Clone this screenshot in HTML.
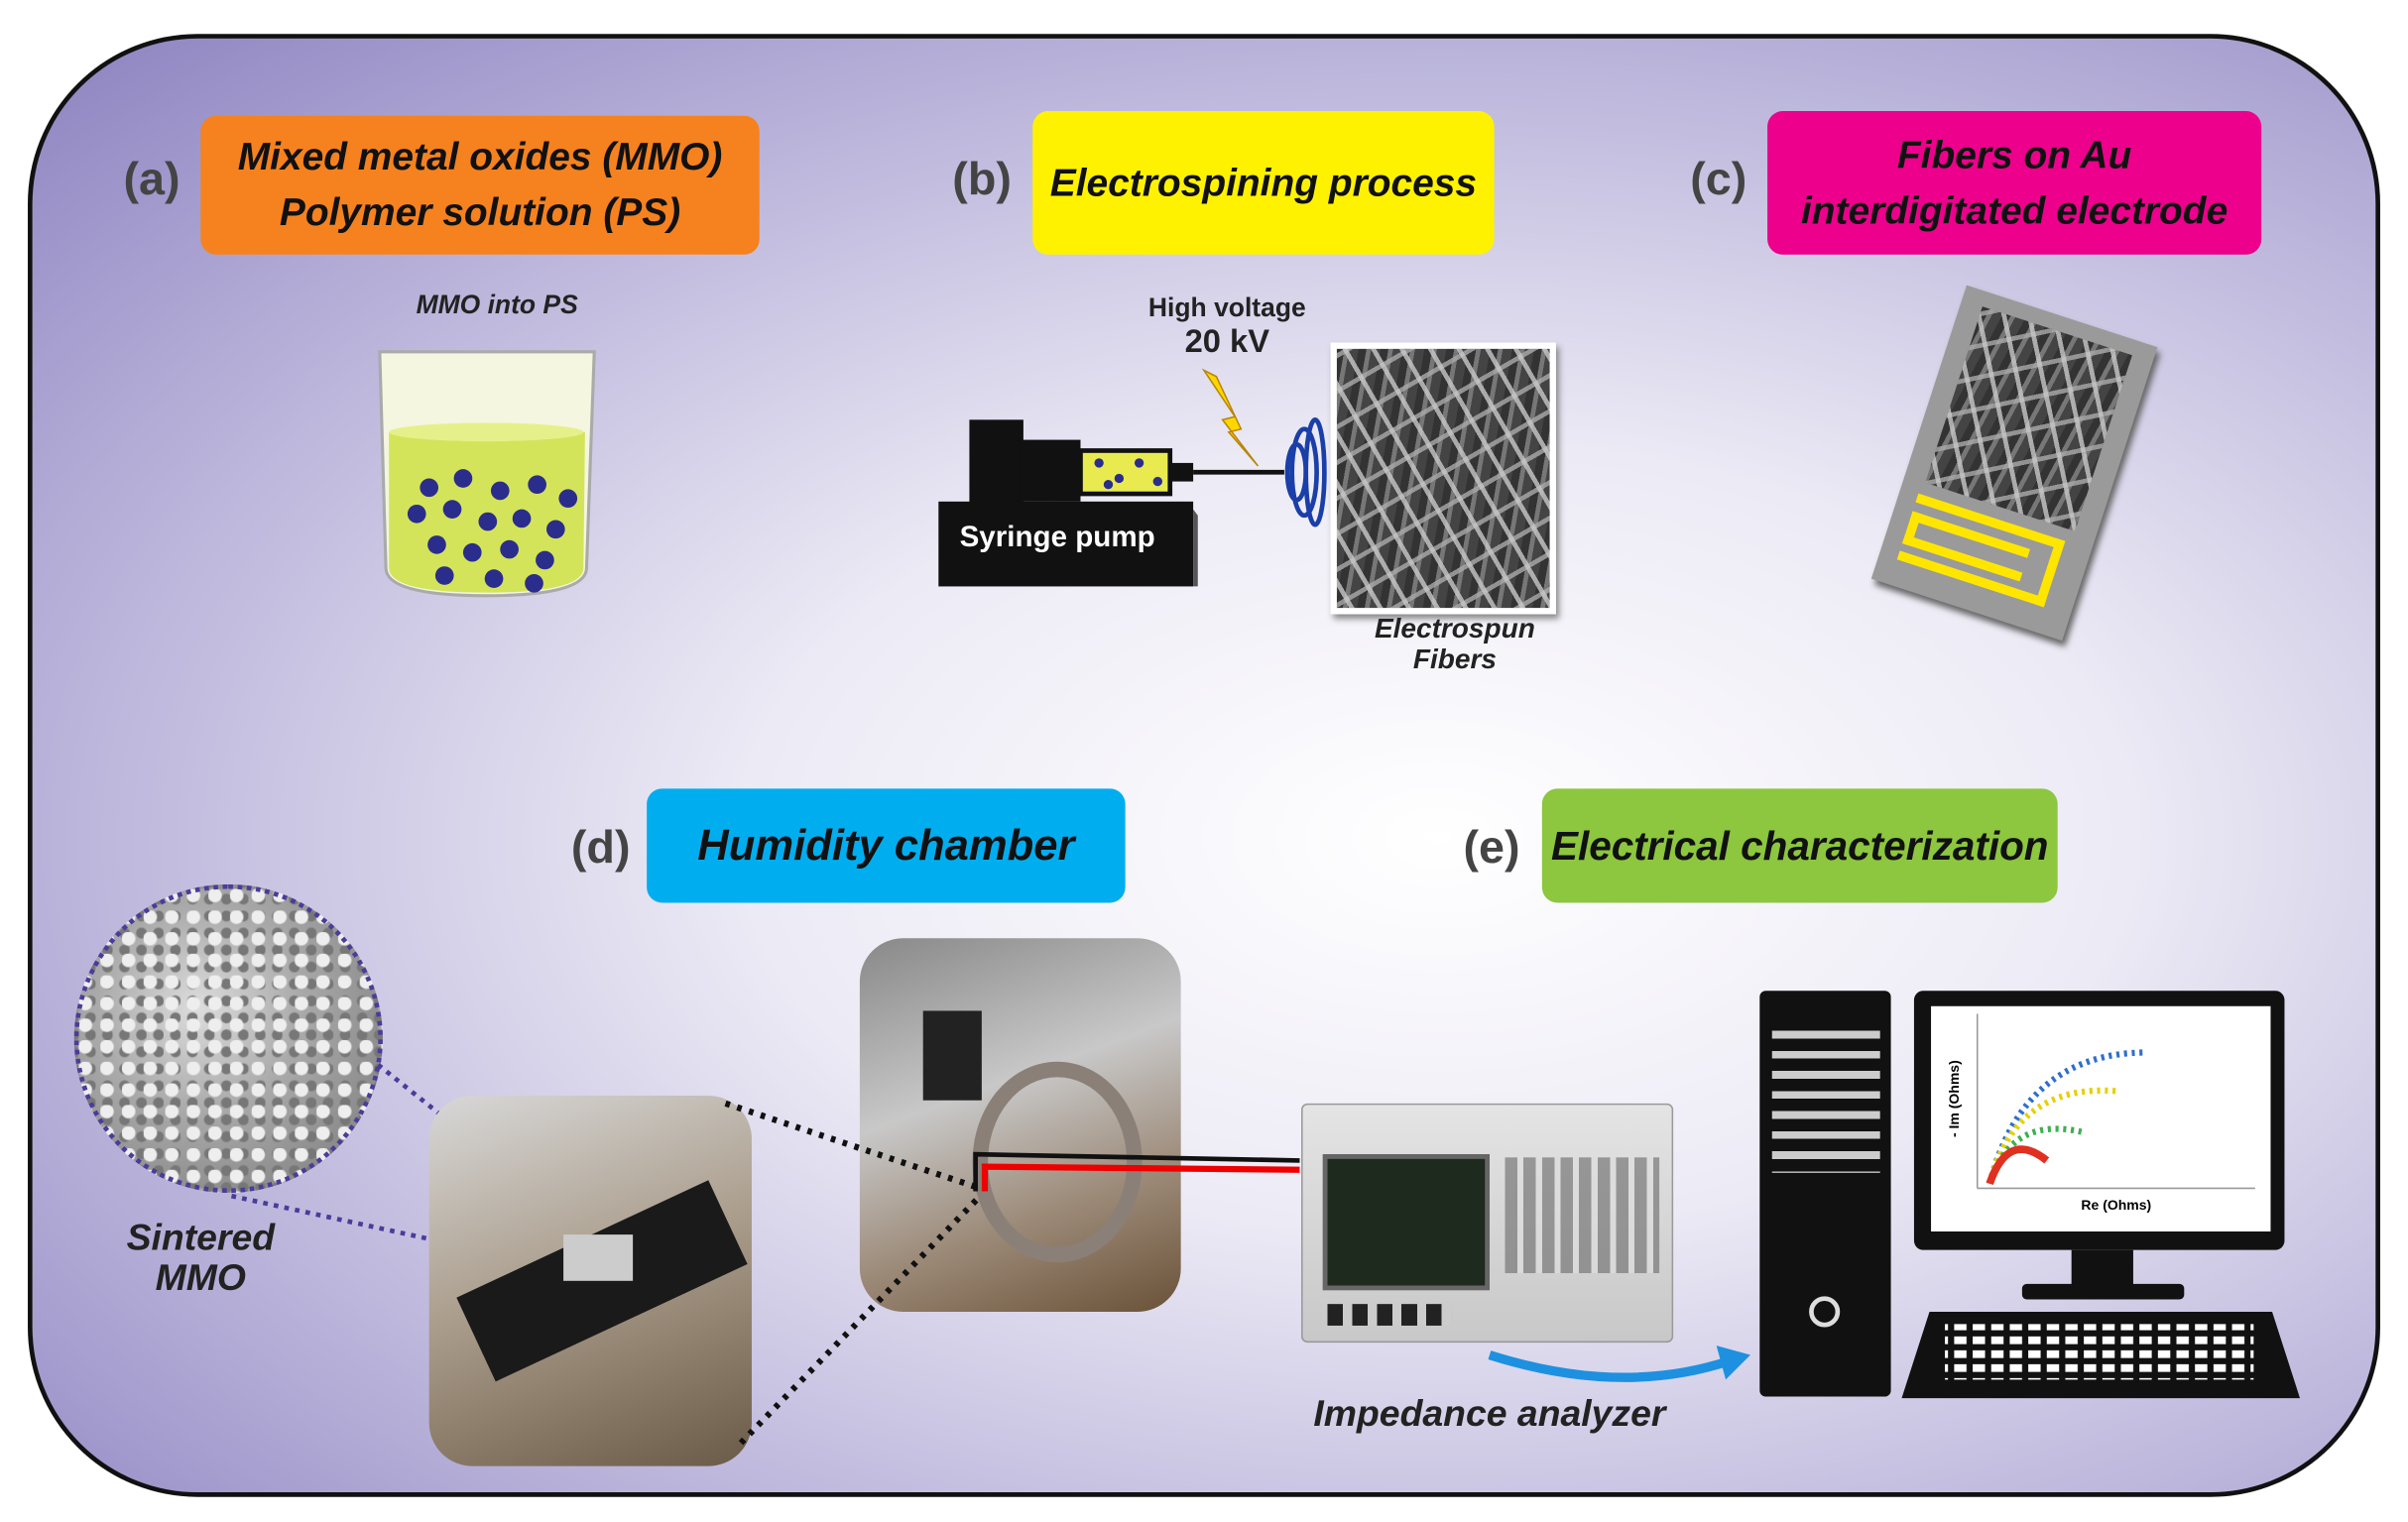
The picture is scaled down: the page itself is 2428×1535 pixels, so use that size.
<!DOCTYPE html>
<html><head><meta charset="utf-8"><style>
html,body{margin:0;padding:0;background:#fff;width:2428px;height:1534px;overflow:hidden}
#s{position:absolute;left:0;top:0;width:1560px;height:986px;transform:scale(1.5564);transform-origin:0 0;font-family:"Liberation Sans",sans-serif}
.a{position:absolute}
.box{position:absolute;border-radius:10px;display:flex;align-items:center;justify-content:center;text-align:center;font-weight:bold;font-style:italic;font-size:25px;line-height:36px;color:#111}
.lab{position:absolute;font-size:30px;font-weight:bold;color:#444}
.it{position:absolute;font-style:italic;font-weight:bold;color:#222;text-align:center}
.fib{background:repeating-linear-gradient(60deg,transparent 0 7px,rgba(200,200,200,.8) 7px 10px,transparent 10px 16px),repeating-linear-gradient(-30deg,transparent 0 9px,rgba(170,170,170,.8) 9px 12px,transparent 12px 20px),repeating-linear-gradient(100deg,#333 0 5px,#777 5px 8px,#444 8px 14px)}
</style></head><body><div id="s">
<div class="a" style="left:18px;top:22px;width:1518px;height:942px;border:3px solid #111;border-radius:110px;background:radial-gradient(ellipse at 60% 55%,#ffffff 0%,#eceaf5 35%,#b9b3da 70%,#8c82c0 100%)"></div>

<div class="lab" style="left:80px;top:100px">(a)</div>
<div class="box" style="left:130px;top:75px;width:362px;height:90px;background:#f5821f">Mixed metal oxides (MMO)<br>Polymer solution (PS)</div>
<div class="lab" style="left:617px;top:100px">(b)</div>
<div class="box" style="left:669px;top:72px;width:299px;height:93px;background:#fff200">Electrospining process</div>
<div class="lab" style="left:1095px;top:100px">(c)</div>
<div class="box" style="left:1145px;top:72px;width:320px;height:93px;background:#ec008c">Fibers on Au<br>interdigitated electrode</div>
<div class="lab" style="left:370px;top:533px">(d)</div>
<div class="box" style="left:419px;top:511px;width:310px;height:74px;background:#00aeef;font-size:28px">Humidity chamber</div>
<div class="lab" style="left:948px;top:533px">(e)</div>
<div class="box" style="left:999px;top:511px;width:334px;height:74px;background:#8dc63f;font-size:26px">Electrical characterization</div>

<div class="it" style="left:242px;top:188px;width:160px;font-size:17px">MMO into PS</div>
<svg class="a" style="left:238px;top:218px" width="155" height="175">
<path d="M8 10 L147 10 L142 150 Q142 168 77 168 Q12 168 12 150 Z" fill="#f4f6e0" stroke="#aaa" stroke-width="2"/>
<path d="M14 62 L141 62 L140 150 Q140 166 77 166 Q14 166 14 150 Z" fill="#d4e45a"/>
<ellipse cx="77" cy="62" rx="63" ry="6" fill="#e6f08a"/>
<g fill="#2b2d8c"><circle cx="40" cy="98" r="6"/><circle cx="62" cy="92" r="6"/><circle cx="86" cy="100" r="6"/><circle cx="110" cy="96" r="6"/><circle cx="130" cy="105" r="6"/><circle cx="32" cy="115" r="6"/><circle cx="55" cy="112" r="6"/><circle cx="78" cy="120" r="6"/><circle cx="100" cy="118" r="6"/><circle cx="122" cy="125" r="6"/><circle cx="45" cy="135" r="6"/><circle cx="68" cy="140" r="6"/><circle cx="92" cy="138" r="6"/><circle cx="115" cy="145" r="6"/><circle cx="50" cy="155" r="6"/><circle cx="82" cy="157" r="6"/><circle cx="108" cy="160" r="6"/></g>
</svg>

<div class="it" style="left:720px;top:190px;width:150px;font-size:17px;font-style:normal">High voltage</div>
<div class="it" style="left:740px;top:210px;width:110px;font-size:21px;font-style:normal">20 kV</div>
<svg class="a" style="left:600px;top:230px" width="270" height="160">
<polygon points="180,10 200,40 192,42 215,72 196,50 204,48 188,14" fill="#ffd700" stroke="#b8860b"/>
<rect x="28" y="42" width="35" height="55" fill="#111"/><rect x="60" y="55" width="40" height="40" fill="#111"/>
<rect x="100" y="62" width="58" height="28" fill="#e8ea50" stroke="#111" stroke-width="3"/>
<g fill="#2b2d8c"><circle cx="112" cy="70" r="3"/><circle cx="125" cy="80" r="3"/><circle cx="138" cy="70" r="3"/><circle cx="150" cy="82" r="3"/><circle cx="118" cy="84" r="3"/></g>
<rect x="158" y="70" width="15" height="12" fill="#111"/><line x1="173" y1="76" x2="232" y2="76" stroke="#111" stroke-width="3"/>
<g fill="none" stroke="#1b3fa8" stroke-width="3"><ellipse cx="240" cy="76" rx="6" ry="18"/><ellipse cx="245" cy="76" rx="8" ry="28"/><ellipse cx="252" cy="76" rx="6" ry="34"/></g>
<rect x="8" y="95" width="165" height="55" fill="#111"/><polygon points="173,100 176,104 176,150 173,150" fill="#555"/>
<text x="85" y="124" font-family="Liberation Sans" font-weight="bold" font-size="19" fill="#fff" text-anchor="middle">Syringe pump</text>
</svg>
<div class="a fib" style="left:862px;top:222px;width:138px;height:168px;border:4px solid #fff;box-shadow:2px 3px 4px #888"></div>
<div class="it" style="left:870px;top:397px;width:145px;font-size:18px;line-height:20px">Electrospun<br>Fibers</div>

<div class="a" style="left:1240px;top:200px;width:130px;height:200px;background:#9a9a9a;transform:rotate(18deg);transform-origin:center;box-shadow:3px 3px 4px #666">
<div class="a fib" style="left:14px;top:10px;width:102px;height:120px"></div>
<div class="a" style="left:12px;top:138px;width:100px;height:45px;border:6px solid #ffe600;border-left:none;box-sizing:border-box"></div>
<div class="a" style="left:12px;top:150px;width:80px;height:22px;border:6px solid #ffe600;border-right:none;box-sizing:border-box"></div>
</div>

<div class="a" style="left:48px;top:573px;width:200px;height:200px;border-radius:50%;border:3px dotted #4a3c9a;background:radial-gradient(circle at 30% 30%,#eee 0 4px,transparent 5px) 0 0/14px 14px,radial-gradient(circle at 70% 60%,#777 0 3px,transparent 4px) 0 0/11px 11px,radial-gradient(circle at 40% 40%,#ddd 0,#aaa 40%,#888 80%);box-sizing:border-box"></div>
<div class="it" style="left:60px;top:790px;width:140px;font-size:24px;line-height:26px">Sintered<br>MMO</div>
<svg class="a" style="left:0;top:0" width="1560" height="986">
<line x1="150" y1="775" x2="380" y2="825" stroke="#4a3c9a" stroke-width="3" stroke-dasharray="3,4"/>
<line x1="245" y1="690" x2="395" y2="810" stroke="#4a3c9a" stroke-width="3" stroke-dasharray="3,4"/>
</svg>
<div class="a" style="left:278px;top:710px;width:209px;height:240px;border-radius:28px;background:linear-gradient(160deg,#d8d8d8,#a89a88 50%,#6a5a48)"></div>
<div class="a" style="left:300px;top:800px;width:180px;height:60px;background:#1a1a1a;transform:rotate(-25deg)"></div>
<div class="a" style="left:365px;top:800px;width:45px;height:30px;background:#ccc"></div>
<div class="a" style="left:557px;top:608px;width:208px;height:242px;border-radius:28px;background:linear-gradient(160deg,#888,#c8c8c8 40%,#9c8a78 70%,#6a5238)"></div>
<div class="a" style="left:598px;top:655px;width:38px;height:58px;background:#222"></div>
<div class="a" style="left:630px;top:688px;width:110px;height:130px;border-radius:50%;border:10px solid #8a8078;box-sizing:border-box"></div>
<svg class="a" style="left:0;top:0" width="1560" height="986">
<line x1="470" y1="715" x2="635" y2="770" stroke="#111" stroke-width="4" stroke-dasharray="3,5"/>
<line x1="480" y1="935" x2="635" y2="775" stroke="#111" stroke-width="4" stroke-dasharray="3,5"/>
<polyline points="632,772 632,748 842,752" fill="none" stroke="#111" stroke-width="3"/>
<polyline points="638,772 638,756 842,758" fill="none" stroke="#e00" stroke-width="4"/>
<path d="M965 878 Q1050 905 1120 882" fill="none" stroke="#1e90e0" stroke-width="6"/>
<polygon points="1112,872 1134,878 1118,894" fill="#1e90e0"/>
</svg>

<div class="a" style="left:843px;top:715px;width:239px;height:153px;background:linear-gradient(#e4e4e4,#c8c8c8);border:1px solid #999;border-radius:4px"></div>
<div class="a" style="left:857px;top:748px;width:102px;height:82px;background:#1f2a1f;border:3px solid #666"></div>
<div class="a" style="left:975px;top:750px;width:100px;height:75px;background:repeating-linear-gradient(90deg,#777 0 8px,#ddd 8px 12px);opacity:.7"></div>
<div class="a" style="left:860px;top:845px;width:80px;height:14px;background:repeating-linear-gradient(90deg,#222 0 10px,#ccc 10px 16px)"></div>
<div class="it" style="left:835px;top:903px;width:260px;font-size:24px">Impedance analyzer</div>

<div class="a" style="left:1140px;top:642px;width:85px;height:263px;background:#111;border-radius:4px"></div>
<div class="a" style="left:1148px;top:660px;width:70px;height:100px;background:repeating-linear-gradient(#111 0 8px,#ccc 8px 13px)"></div>
<div class="a" style="left:1172px;top:840px;width:20px;height:20px;border-radius:50%;border:3px solid #ddd;box-sizing:border-box"></div>
<div class="a" style="left:1240px;top:642px;width:240px;height:168px;background:#111;border-radius:6px"></div>
<div class="a" style="left:1251px;top:652px;width:220px;height:146px;background:#fff"></div>
<svg class="a" style="left:1251px;top:652px" width="220" height="146">
<line x1="30" y1="5" x2="30" y2="118" stroke="#999"/><line x1="30" y1="118" x2="210" y2="118" stroke="#999"/>
<path d="M38 115 Q60 30 140 30" fill="none" stroke="#2d6fcc" stroke-width="4" stroke-dasharray="2,3"/>
<path d="M38 115 Q55 50 120 55" fill="none" stroke="#e6d000" stroke-width="4" stroke-dasharray="2,3"/>
<path d="M38 115 Q52 70 100 82" fill="none" stroke="#3cb050" stroke-width="4" stroke-dasharray="2,3"/>
<path d="M38 115 Q50 80 75 100" fill="none" stroke="#e03020" stroke-width="5"/>
<text x="120" y="132" font-size="9" font-family="Liberation Sans" font-weight="bold" text-anchor="middle">Re (Ohms)</text>
<text x="18" y="60" font-size="9" font-family="Liberation Sans" font-weight="bold" transform="rotate(-90 18 60)" text-anchor="middle">- Im (Ohms)</text>
</svg>
<div class="a" style="left:1342px;top:810px;width:40px;height:25px;background:#111"></div>
<div class="a" style="left:1310px;top:832px;width:105px;height:10px;background:#111;border-radius:3px"></div>
<svg class="a" style="left:1230px;top:848px" width="262" height="60">
<defs><pattern id="k" width="12" height="9" patternUnits="userSpaceOnUse"><rect width="8" height="5" fill="#fff"/></pattern></defs>
<polygon points="20,2 242,2 260,58 2,58" fill="#111"/>
<rect x="30" y="10" width="200" height="36" fill="url(#k)"/>
</svg>
</div></body></html>
